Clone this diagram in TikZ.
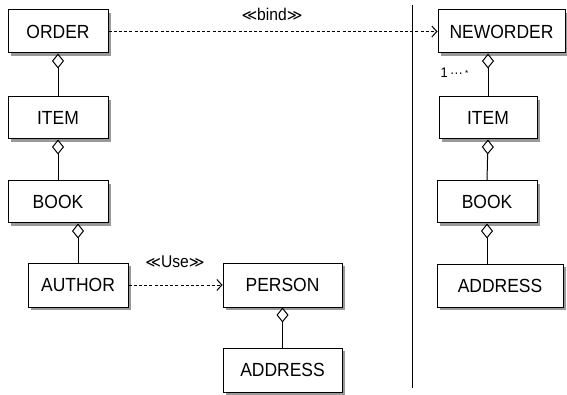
\documentclass[tikz,border=0pt]{standalone}
\usepackage{fontspec}
\setmainfont[FakeStretch=0.92]{Liberation Sans}
\newfontfamily\symfont{DejaVu Sans}
\usetikzlibrary{arrows.meta,calc}
\tikzset{
  cls/.style={draw, line width=1pt, fill=white, inner sep=0pt,
    font=\fontsize{19}{21}\selectfont},
  shadowbox/.style={draw=none, fill=black!40, inner sep=0pt},
  agg/.style={line width=1pt, -{Diamond[open, length=15pt, width=12pt, line width=1pt]}},
  dep/.style={line width=1pt, dash pattern=on 3pt off 2.2pt, -{Straight Barb[length=5pt, width=11pt, line width=1pt]}},
  stereo/.style={font=\fontsize{17}{19}\selectfont},
}
\newcommand{\ltgl}{{\symfont\fontsize{15}{17}\selectfont ≪}}
\newcommand{\gtgl}{{\symfont\fontsize{15}{17}\selectfont ≫}}
% \umlbox{name}{x}{y}{width}{height}{text}
\newcommand{\umlbox}[6]{%
  \node[shadowbox, minimum width=#4pt, minimum height=#5pt] (#1sh) at ($(#2,#3)+(3,3)$) {};
  \node[cls, minimum width=#4pt, minimum height=#5pt] (#1) at (#2,#3) {#6};}
\begin{document}
\begin{tikzpicture}[x=1pt,y=-1pt]
\fill[white] (0,0) rectangle (567,395);
\useasboundingbox (0,0) rectangle (567,395);
% left side
\umlbox{order}{58}{31.5}{100}{43}{ORDER}
\umlbox{item1}{58}{118}{100}{42}{ITEM}
\umlbox{book1}{58}{202}{100}{42}{BOOK}
\umlbox{author}{78}{285}{100}{44}{AUTHOR}
\umlbox{person}{282.5}{285}{119}{44}{PERSON}
\umlbox{addr1}{282.5}{370}{119}{44}{ADDRESS}
% right side
\umlbox{neworder}{501.5}{31.5}{127}{43}{NEWORDER}
\umlbox{item2}{488}{118}{98}{42}{ITEM}
\umlbox{book2}{487}{202}{100}{42}{BOOK}
\umlbox{addr2}{500}{285.5}{126}{43}{ADDRESS}
% separator
\coordinate (septop) at (412,5);
\coordinate (sepbot) at (412,388);
\draw[line width=1pt] (septop) -- (sepbot);
% aggregations
\draw[agg] (item1.north) -- (order.south);
\draw[agg] (book1.north) -- (item1.south);
\draw[agg] (author.north) -- (author.north |- book1.south);
\draw[agg] (addr1.north) -- (person.south);
\draw[agg] (item2.north) -- (item2.north |- neworder.south);
\draw[agg] (book2.north) -- (item2.south);
\draw[agg] (book2.south |- addr2.north) -- (book2.south);
% dependencies
\draw[dep] (order.east) -- (neworder.west);
\draw[dep] (author.east) -- (person.west);
\node[stereo] (bindlbl) at (272,14) {\ltgl bind\gtgl};
\node[stereo] (uselbl) at (175,262) {\ltgl Use\gtgl};
\node[font=\fontsize{14}{16}\selectfont, anchor=west] (mult) at (437,73) {1\,···\,{\raisebox{0.15ex}{\fontsize{9}{10}\selectfont *}}};
\end{tikzpicture}
\end{document}
